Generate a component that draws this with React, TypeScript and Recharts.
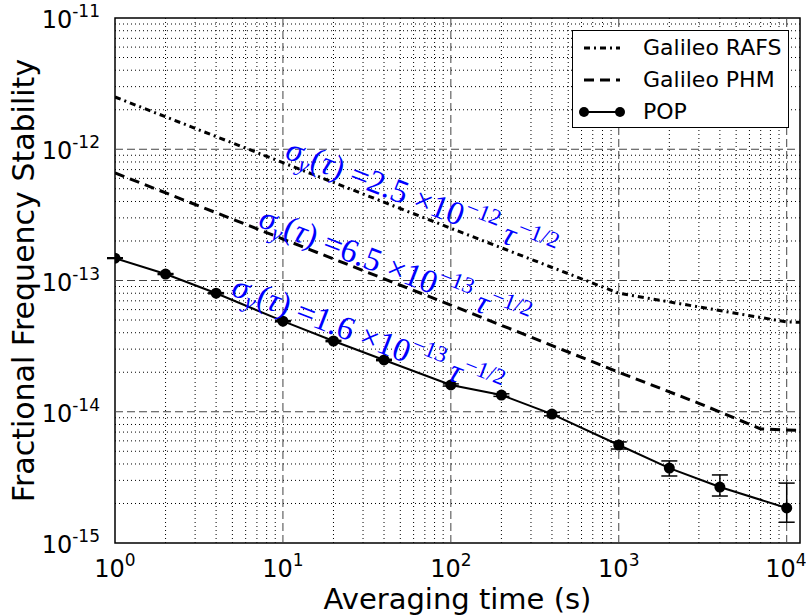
import { LineChart, Line, XAxis, YAxis, ReferenceLine, ReferenceArea, ReferenceDot, ErrorBar, Label } from "recharts"

// averaging times and Allan deviations
const popTau = [1, 2, 4, 10, 20, 40, 100, 200, 400, 1000, 2000, 4000, 10000]
const popSigma = [1.48e-13, 1.12e-13, 8.0e-14, 4.9e-14, 3.46e-14, 2.48e-14, 1.6e-14, 1.34e-14, 9.6e-15, 5.58e-15, 3.72e-15, 2.67e-15, 1.85e-15]
const popErrLow = [1e-15, 1e-15, 8e-16, 5e-16, 4e-16, 3e-16, 3e-16, 3e-16, 3e-16, 3.8e-16, 4.8e-16, 3.9e-16, 4.1e-16]
const popErrHigh = [1e-15, 1e-15, 8e-16, 5e-16, 4e-16, 3e-16, 3e-16, 3e-16, 3e-16, 3.1e-16, 5.0e-16, 6.3e-16, 1.01e-15]

const rafsTau = [1, 10, 100, 1000, 10000, 12000]
const rafsSigma = [2.5e-12, 7.9e-13, 2.5e-13, 8.0e-14, 4.83e-14, 4.8e-14]

const phmTau = [1, 10, 100, 1000, 3000, 7000, 12000]
const phmSigma = [6.6e-13, 2.07e-13, 6.5e-14, 2.0e-14, 1.16e-14, 7.4e-15, 7.2e-15]

const xTicks = [1, 10, 100, 1000, 10000]
const yTicks = [1e-15, 1e-14, 1e-13, 1e-12, 1e-11]
const minorMult = [2, 3, 4, 5, 6, 7, 8, 9]

const fits = [
  { tau: 10.1, sigma: 8.6e-13, coef: "2.5", exp: "12" },
  { tau: 7.0, sigma: 2.6e-13, coef: "6.5", exp: "13" },
  { tau: 4.84, sigma: 7.8e-14, coef: "1.6", exp: "13" },
]

const popData = popTau.map((t, i) => ({ tau: t, v: popSigma[i], err: [popErrLow[i], popErrHigh[i]] }))
const rafsData = rafsTau.map((t, i) => ({ tau: t, v: rafsSigma[i] }))
const phmData = phmTau.map((t, i) => ({ tau: t, v: phmSigma[i] }))

const xMinor = [1, 10, 100, 1000].flatMap((d) => minorMult.map((m) => m * d))
const yMinor = [1e-15, 1e-14, 1e-13, 1e-12].flatMap((d) => minorMult.map((m) => m * d))

const FONT = "DejaVu Sans"

function XTick({ x, y, payload }: any) {
  const e = Math.round(Math.log10(payload.value))
  return (
    <text x={x} y={y + 26} textAnchor="middle" fontFamily={FONT} fontSize={24} fill="#000">
      <tspan>10</tspan>
      <tspan fontSize={17} dy={-11}>{e}</tspan>
    </text>
  )
}

function YTick({ x, y, payload }: any) {
  const e = Math.round(Math.log10(payload.value))
  return (
    <text x={x - 7} y={y + 10} textAnchor="end" fontFamily={FONT} fontSize={24} fill="#000">
      <tspan>10</tspan>
      <tspan fontSize={17} dy={-11}>{e}</tspan>
    </text>
  )
}

function FitText({ cx, cy, coef, exp }: any) {
  return (
    <text transform={`translate(${cx},${cy}) rotate(21.3)`} fill="#0000ff" fontFamily="Liberation Serif" fontSize={33}>
      <tspan fontStyle="italic">σ</tspan>
      <tspan fontStyle="italic" fontSize={23} dy={7}>y</tspan>
      <tspan dy={-7}>(</tspan>
      <tspan fontStyle="italic">τ</tspan>
      <tspan>{") =" + coef}</tspan>
      <tspan> ×10</tspan>
      <tspan fontSize={23} dy={-14}>{"−" + exp}</tspan>
      <tspan dy={14}> </tspan>
      <tspan fontStyle="italic">τ</tspan>
      <tspan fontSize={23} dy={-14}>−1/2</tspan>
    </text>
  )
}

function LegendBox() {
  const rows = [
    { name: "Galileo RAFS", dash: "6 4 2 4", w: 3, dot: false },
    { name: "Galileo PHM", dash: "10 6", w: 3, dot: false },
    { name: "POP", dash: undefined, w: 2, dot: true },
  ]
  return (
    <div style={{ position: "absolute", left: 572, top: 30, width: 217, height: 98, border: "1.5px solid #000", background: "#fff", boxSizing: "border-box" }}>
      {rows.map((r, i) => (
        <div key={r.name} style={{ position: "absolute", left: 0, top: 2 + i * 32, height: 30, width: 215 }}>
          <svg width={60} height={30} style={{ position: "absolute", left: 4, top: 0 }}>
            <line x1={7} x2={43} y1={15} y2={15} stroke="#000" strokeWidth={r.w} strokeDasharray={r.dash} />
            {r.dot && <circle cx={7} cy={15} r={5} fill="#000" />}
            {r.dot && <circle cx={43} cy={15} r={5} fill="#000" />}
          </svg>
          <span style={{ position: "absolute", left: 70, top: 0, lineHeight: "30px", fontFamily: FONT, fontSize: 22 }}>{r.name}</span>
        </div>
      ))}
    </div>
  )
}

export default function App() {
  return (
    <div style={{ position: "absolute", left: 0, top: 0, width: 806, height: 615, background: "#fff" }}>
      <LineChart width={806} height={615} margin={{ top: 18, right: 6, bottom: 0, left: 0 }}>
        <XAxis
          dataKey="tau"
          type="number"
          scale="log"
          domain={[1, 12000]}
          allowDataOverflow
          ticks={xTicks}
          tick={<XTick />}
          tickLine={false}
          axisLine={false}
          height={72}
        >
          <Label
            content={({ viewBox }: any) => (
              <text x={viewBox.x + viewBox.width / 2} y={viewBox.y + 66} textAnchor="middle" fontFamily={FONT} fontSize={29} fill="#000">
                Averaging time (s)
              </text>
            )}
          />
        </XAxis>
        <YAxis
          type="number"
          scale="log"
          domain={[1e-15, 1e-11]}
          allowDataOverflow
          ticks={yTicks}
          tick={<YTick />}
          tickLine={false}
          axisLine={false}
          width={115}
        >
          <Label
            content={({ viewBox }: any) => {
              const cx = viewBox.x + 34
              const cy = viewBox.y + viewBox.height / 2
              return (
                <text x={cx} y={cy} transform={`rotate(-90 ${cx} ${cy})`} textAnchor="middle" fontFamily={FONT} fontSize={30} fill="#000">
                  Fractional Frequency Stability
                </text>
              )
            }}
          />
        </YAxis>

        {xMinor.map((v) => (
          <ReferenceLine key={"xm" + v} x={v} stroke="#000" strokeWidth={1} strokeDasharray="1 3" />
        ))}
        {yMinor.map((v) => (
          <ReferenceLine key={"ym" + v} y={v} stroke="#000" strokeWidth={1} strokeDasharray="1 3" />
        ))}
        {xTicks.slice(1).map((v) => (
          <ReferenceLine key={"xM" + v} x={v} stroke="#444" strokeWidth={1} strokeDasharray="8 4" />
        ))}
        {yTicks.slice(1, -1).map((v) => (
          <ReferenceLine key={"yM" + v} y={v} stroke="#444" strokeWidth={1} strokeDasharray="8 4" />
        ))}

        <Line data={rafsData} dataKey="v" stroke="#000" strokeWidth={3} strokeDasharray="6 4 2 4" dot={false} isAnimationActive={false} />
        <Line data={phmData} dataKey="v" stroke="#000" strokeWidth={3} strokeDasharray="10 6" dot={false} isAnimationActive={false} />
        <Line data={popData} dataKey="v" stroke="#000" strokeWidth={2} dot={{ r: 5.5, fill: "#000", stroke: "#000", strokeWidth: 0 }} isAnimationActive={false}>
          <ErrorBar dataKey="err" direction="y" width={8} stroke="#000" strokeWidth={1.5} />
        </Line>

        {fits.map((f) => (
          <ReferenceDot
            key={f.coef}
            x={f.tau}
            y={f.sigma}
            r={0}
            shape={(p: any) => <FitText cx={p.cx} cy={p.cy} coef={f.coef} exp={f.exp} />}
          />
        ))}

        <ReferenceArea x1={1} x2={12000} y1={1e-15} y2={1e-11} fill="none" fillOpacity={0} stroke="#000" strokeWidth={1.5} ifOverflow="visible" />
      </LineChart>
      <LegendBox />
    </div>
  )
}
